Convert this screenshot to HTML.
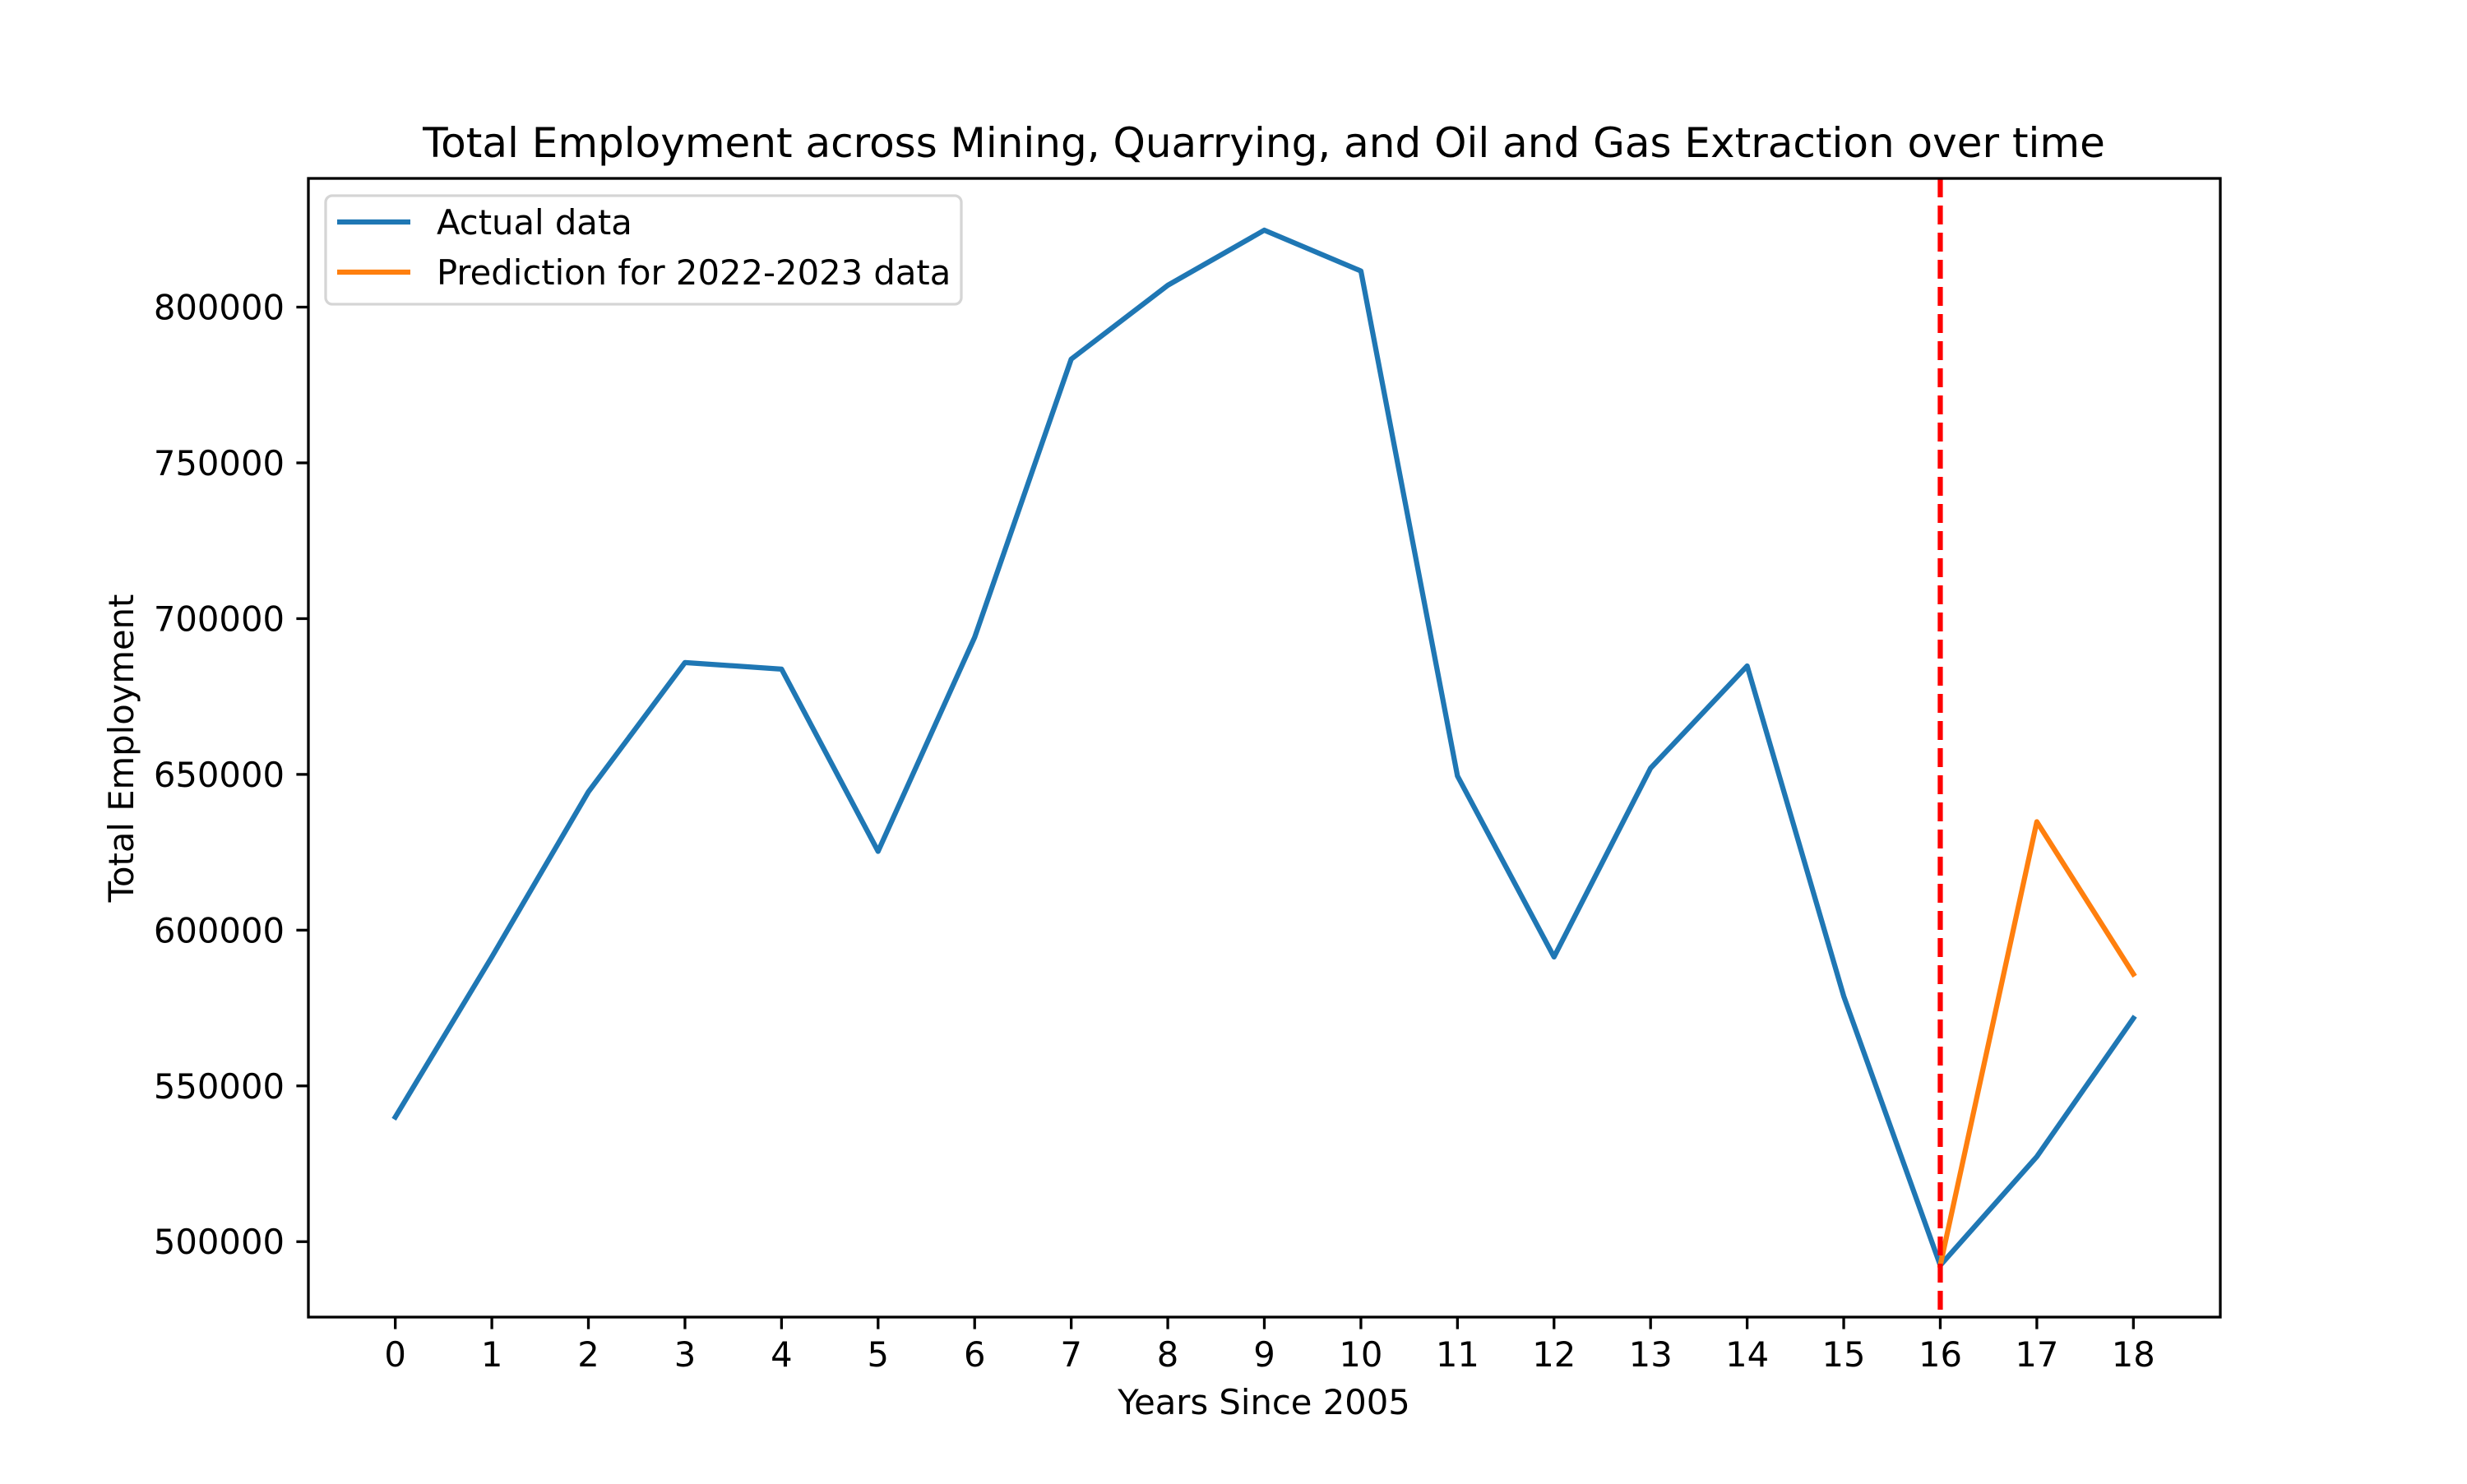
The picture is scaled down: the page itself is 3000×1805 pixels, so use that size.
<!DOCTYPE html>
<html><head><meta charset="utf-8"><style>
html,body{margin:0;padding:0;background:#fff}
svg text{font-family:"DejaVu Sans","Liberation Sans",sans-serif;fill:#000}
</style></head><body>
<svg id="chart" width="3000" height="1800" viewBox="0 0 3000 1800" xmlns="http://www.w3.org/2000/svg">
<rect x="0" y="0" width="3000" height="1800" fill="#fff"/>
<text x="1537" y="191" font-size="50" text-anchor="middle">Total Employment across Mining, Quarrying, and Oil and Gas Extraction over time</text>
<g id="ticks"></g>
<g id="plot"></g>
<rect x="375" y="217" width="2325" height="1385" fill="none" stroke="#000" stroke-width="3.3"/>
<text x="1537" y="1720" font-size="41.7" text-anchor="middle">Years Since 2005</text>
<text x="0" y="0" font-size="41.7" text-anchor="middle" transform="translate(162,910) rotate(-90)">Total Employment</text>
<g>
<rect x="396" y="238" width="773" height="132" rx="8" fill="#fff" fill-opacity="0.8" stroke="#d5d5d5" stroke-width="3.3"/>
<line x1="410" y1="270" x2="499" y2="270" stroke="#1f77b4" stroke-width="6.25"/>
<text x="531" y="285" font-size="41.7">Actual data</text>
<line x1="410" y1="331" x2="499" y2="331" stroke="#ff7f0e" stroke-width="6.25"/>
<text x="531" y="346" font-size="41.7">Prediction for 2022-2023 data</text>
</g>
</svg>
<script>
const years = [0,1,2,3,4,5,6,7,8,9,10,11,12,13,14,15,16,17,18];
const actual = [540000,591400,644400,685900,683800,625300,694000,783300,807000,824700,811600,649500,591400,652000,684800,578800,492400,527300,571700];
const predYears = [16,17,18];
const predicted = [492400,634800,585900];
const yTicks = [500000,550000,600000,650000,700000,750000,800000];
const cutoffYear = 16;

const L=375,R=2700,T=217,B=1602;
const NS='http://www.w3.org/2000/svg';
const allY=actual.concat(predicted);
const yMin=Math.min(...allY), yMax=Math.max(...allY), yPad=(yMax-yMin)*0.05;
const xMin=Math.min(...years), xMax=Math.max(...years), xPad=(xMax-xMin)*0.05;
function xs(v){return L+(v-(xMin-xPad))/((xMax+xPad)-(xMin-xPad))*(R-L);}
function ys(v){return B-(v-(yMin-yPad))/((yMax+yPad)-(yMin-yPad))*(B-T);}
function mk(tag,attrs,parent){const e=document.createElementNS(NS,tag);for(const k in attrs)e.setAttribute(k,attrs[k]);parent.appendChild(e);return e;}
const ticks=document.getElementById('ticks'), plot=document.getElementById('plot');
years.forEach(v=>{
  const x=xs(v);
  const t=mk('line',{x1:x,y1:B,x2:x,y2:B+14.6,stroke:'#000','stroke-width':3.3},ticks);
  
  
  const lb=mk('text',{x:x,y:1662,'font-size':41.7,'text-anchor':'middle'},ticks);
  lb.textContent=String(v);
  
  
});
yTicks.forEach(v=>{
  const y=ys(v);
  const t=mk('line',{x1:L-14.6,y1:y,x2:L,y2:y,stroke:'#000','stroke-width':3.3},ticks);
  
  
  const lb=mk('text',{x:346,y:y+15,'font-size':41.7,'text-anchor':'end'},ticks);
  lb.textContent=String(v);
  
  
});
const a=mk('polyline',{points:years.map((v,i)=>xs(v)+','+ys(actual[i])).join(' '),fill:'none',stroke:'#1f77b4','stroke-width':6.25,'stroke-linejoin':'round','stroke-linecap':'square'},plot);


const p=mk('polyline',{points:predYears.map((v,i)=>xs(v)+','+ys(predicted[i])).join(' '),fill:'none',stroke:'#ff7f0e','stroke-width':6.25,'stroke-linejoin':'round','stroke-linecap':'square'},plot);


const c=mk('line',{x1:xs(cutoffYear),y1:T,x2:xs(cutoffYear),y2:B,stroke:'#ff0000','stroke-width':6.25,'stroke-dasharray':'23 10'},plot);


</script>
</body></html>
